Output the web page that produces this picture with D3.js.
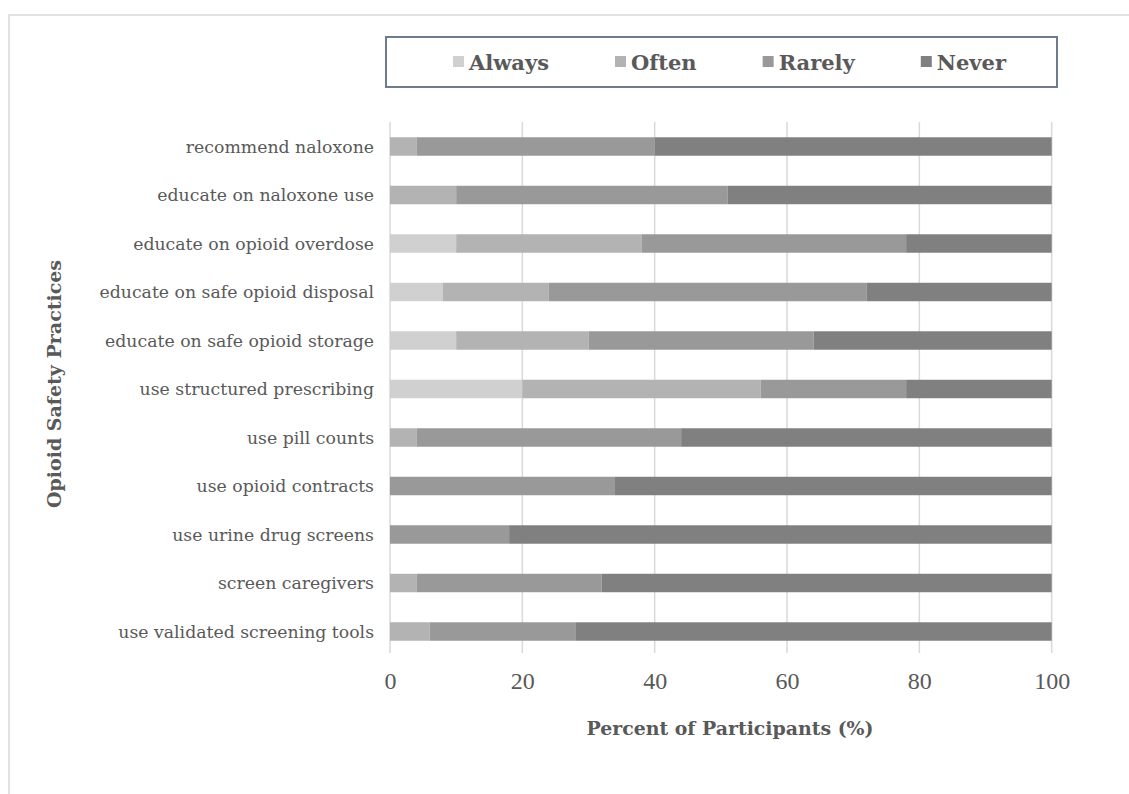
<!DOCTYPE html>
<html>
<head>
<meta charset="utf-8">
<script src="https://cdn.jsdelivr.net/npm/d3@7/dist/d3.min.js"></script>
<style>
  html, body { margin: 0; padding: 0; background: #ffffff; }
  svg { display: block; }
</style>
</head>
<body>
<svg id="chart" width="1129" height="794"></svg>
<script>
// Survey responses: share of participants (%) per opioid safety practice
const categories = [
  "recommend naloxone",
  "educate on naloxone use",
  "educate on opioid overdose",
  "educate on safe opioid disposal",
  "educate on safe opioid storage",
  "use structured prescribing",
  "use pill counts",
  "use opioid contracts",
  "use urine drug screens",
  "screen caregivers",
  "use validated screening tools"
];
const seriesNames = ["Always", "Often", "Rarely", "Never"];
const always = [0, 0, 10, 8, 10, 20, 0, 0, 0, 0, 0];
const often  = [4, 10, 28, 16, 20, 36, 4, 0, 0, 4, 6];
const rarely = [36, 41, 40, 48, 34, 22, 40, 34, 18, 28, 22];
const never  = [60, 49, 22, 28, 36, 22, 56, 66, 82, 68, 72];
const xTicks = [0, 20, 40, 60, 80, 100];

const colors = ["#d0d0d0", "#b3b3b3", "#999999", "#808080"];
const textColor = "#595959";
const serif = "'DejaVu Serif', serif";

const svg = d3.select("#chart");
svg.append("rect").attr("width", 1129).attr("height", 794).attr("fill", "#ffffff");

// outer frame (top and left edges)
svg.append("path")
  .attr("d", "M9,794 V15 H1129")
  .attr("fill", "none").attr("stroke", "#d9d9d9").attr("stroke-width", 1.5);

// build row records and stack them
const rows = categories.map((c, i) => ({
  category: c, Always: always[i], Often: often[i], Rarely: rarely[i], Never: never[i]
}));
const stacked = d3.stack().keys(seriesNames)(rows);

const x = d3.scaleLinear().domain([0, 100]).range([390, 1051.7]);
const y = d3.scaleBand().domain(categories)
  .range([122.25, 655.75]).paddingInner(0.619).paddingOuter(0.3095);
const color = d3.scaleOrdinal().domain(seriesNames).range(colors);

// vertical gridlines
svg.append("g").selectAll("line").data(xTicks).join("line")
  .attr("x1", d => x(d)).attr("x2", d => x(d))
  .attr("y1", 122).attr("y2", 653)
  .attr("stroke", "#d9d9d9").attr("stroke-width", 1.5);

// stacked bars
svg.append("g").selectAll("g").data(stacked).join("g")
  .attr("fill", d => color(d.key))
  .selectAll("rect").data(d => d).join("rect")
  .attr("x", d => x(d[0]))
  .attr("y", d => y(d.data.category))
  .attr("width", d => x(d[1]) - x(d[0]))
  .attr("height", y.bandwidth());

// category axis labels
const yAxis = d3.axisLeft(y).tickSize(0).tickPadding(0);
const gy = svg.append("g").attr("transform", "translate(374,0)").call(yAxis);
gy.select(".domain").remove();
gy.selectAll("text")
  .attr("font-family", serif).attr("font-size", 17.3)
  .attr("fill", textColor).attr("dy", "0.35em");

// value axis labels
const xAxis = d3.axisBottom(x).tickValues(xTicks).tickSize(0).tickPadding(0);
const gx = svg.append("g").attr("transform", "translate(0,672)").call(xAxis);
gx.select(".domain").remove();
gx.selectAll("text")
  .attr("font-family", "'Liberation Serif', serif").attr("font-size", 24)
  .attr("fill", textColor).attr("dy", "0.7em");

// axis titles
svg.append("text")
  .attr("x", 730).attr("y", 735)
  .attr("text-anchor", "middle")
  .attr("font-family", serif).attr("font-weight", "bold").attr("font-size", 18.9)
  .attr("fill", textColor)
  .text("Percent of Participants (%)");

svg.append("text")
  .attr("transform", "translate(61,384) rotate(-90)")
  .attr("text-anchor", "middle")
  .attr("font-family", serif).attr("font-weight", "bold").attr("font-size", 19)
  .attr("fill", textColor)
  .text("Opioid Safety Practices");

// legend
const legend = svg.append("g");
legend.append("rect")
  .attr("x", 386).attr("y", 37).attr("width", 671).attr("height", 50)
  .attr("fill", "#ffffff").attr("stroke", "#6e7b8d").attr("stroke-width", 2);

let lx = 453;
seriesNames.forEach((name) => {
  const item = legend.append("g").attr("transform", `translate(${lx},0)`);
  item.append("rect")
    .attr("x", 0).attr("y", 56).attr("width", 11).attr("height", 11)
    .attr("fill", color(name));
  const t = item.append("text")
    .attr("x", 16).attr("y", 69.5)
    .attr("font-family", serif).attr("font-weight", "bold").attr("font-size", 21)
    .attr("fill", textColor)
    .text(name);
  lx += 16 + t.node().getComputedTextLength() + 66;
});
</script>
</body>
</html>
